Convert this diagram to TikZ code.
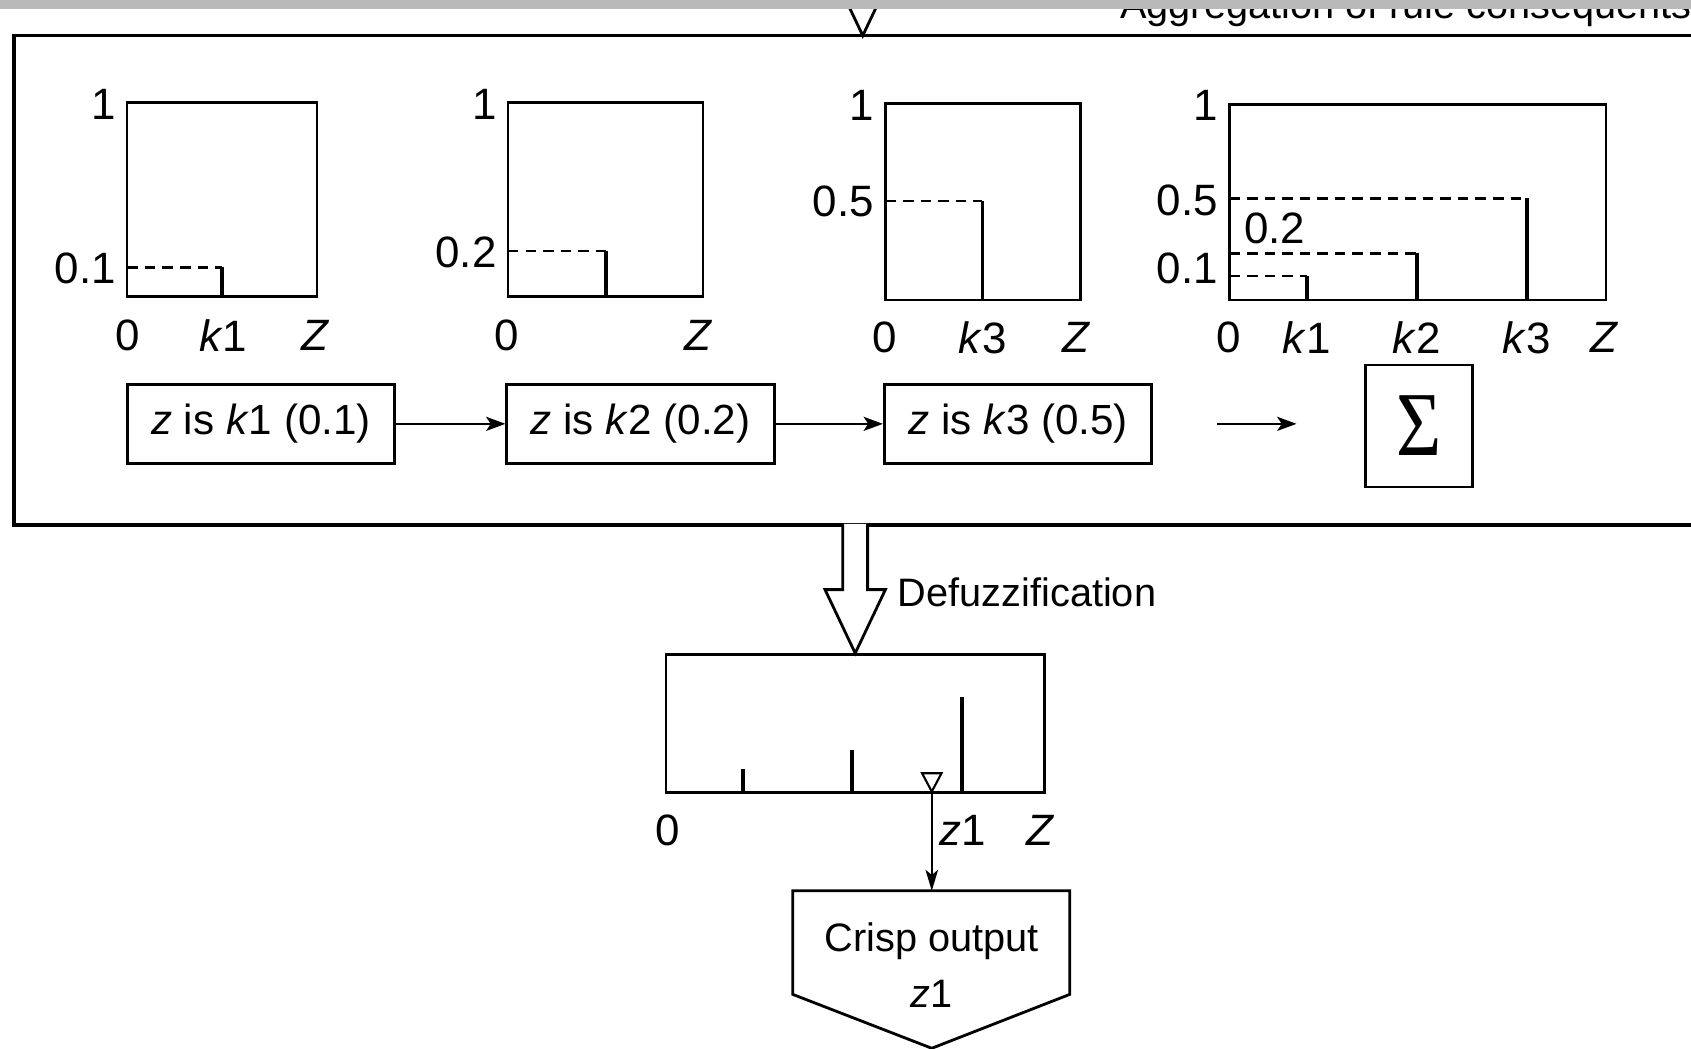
\documentclass[tikz,border=0pt]{standalone}
\usepackage{fontspec}
\usepackage{graphicx}
\setmainfont{Liberation Sans}
\newfontfamily\sigfont{Liberation Serif}
\usetikzlibrary{positioning, arrows.meta, calc}
\newdimen\pxu \pxu=0.010784cm

\begin{document}
\begin{tikzpicture}[
  x=\pxu, y=-\pxu,
  font=\fontsize{12.5}{14}\selectfont,
  plotbox/.style={draw, line width=0.7pt},
  lvl/.style={densely dashed, line width=0.6pt},
  spike/.style={line width=1pt},
  lbl/.style={inner sep=0pt},
  rule/.style={draw, line width=0.8pt, minimum width=248\pxu, minimum height=73\pxu, inner sep=0pt, font=\fontsize{12}{14}\selectfont},
  captxt/.style={inner sep=0pt, font=\fontsize{11.3}{16}\selectfont},
  hollow/.style={draw, line width=0.8pt, fill=white},
  arr/.style={-{Stealth[length=5.5pt, width=4pt, inset=1.3pt]}, line width=0.6pt},
]
  \useasboundingbox (0,0) rectangle (1568,972);
  \clip (0,0) rectangle (1568,972);
  \fill[white] (0,0) rectangle (1568,972);

  % aggregation frame, open to the right
  \draw[line width=1pt] (13,33) rectangle (1640,487);
  \node[captxt, anchor=base west] (agg) at (1038,17) {Aggregation of rule consequents};
  \coordinate (ftop) at (800,33);
  \draw[hollow] (ftop) ++(-11.5,-120) -- ++(0,61) -- ++(-16.5,0) -- (ftop) -- ++(28,-59) -- ++(-16.5,0) -- ++(0,-61);
  \fill[gray!55] (0,0) rectangle (1568,8);

  % the four consequent plots
  \draw[plotbox] (118,95) rectangle (294,275);
  \draw[lvl] (118,248) -- (206,248);
  \draw[spike] (206,248) -- (206,275);
  \draw[plotbox] (471,95) rectangle (652,275);
  \draw[lvl] (471,233) -- (562,233);
  \draw[spike] (562,233) -- (562,275);
  \draw[plotbox] (821,96) rectangle (1002,278);
  \draw[lvl] (821,186) -- (911,186);
  \draw[spike] (911,186) -- (911,278);
  \draw[plotbox] (1140,97) rectangle (1489,278);
  \foreach \x/\y in {1212/256, 1314/235, 1416/184} {
    \draw[lvl] (1140,\y) -- (\x,\y);
    \draw[spike] (\x,\y) -- (\x,278);
  }
  \foreach \x/\y/\t [count=\i] in {108/97/1, 108/249/0.1, 461/97/1, 461/234/0.2,
      811/98/1, 811/187/0.5, 1130/98/1, 1130/186/0.5, 1130/249/0.1}
    \node[lbl, anchor=east] (v\i) at (\x,\y) {\t};
  \node[lbl] (v0) at (1182,212) {0.2};
  \foreach \x/\y/\t [count=\i] in {118/311/0, 207/311/\textit{k}1, 293/311/\textit{Z},
      470/311/0, 648/311/\textit{Z}, 820/313/0, 911/313/\textit{k}3, 998/313/\textit{Z},
      1139/313/0, 1212/313/\textit{k}1, 1314/313/\textit{k}2, 1416/313/\textit{k}3, 1488/313/\textit{Z}}
    \node[lbl] (a\i) at (\x,\y) {\t};

  % rule outputs
  \node[rule] (r1) at (242,393) {\textit{z} is \textit{k}1 (0.1)};
  \node[rule] (r2) at (594,393) {\textit{z} is \textit{k}2 (0.2)};
  \node[rule] (r3) at (944,393) {\textit{z} is \textit{k}3 (0.5)};
  \node[draw, line width=0.8pt, minimum width=99\pxu, minimum height=113\pxu, inner sep=0pt,
    font=\sigfont\fontsize{26}{28}\selectfont] (sig) at (1316,395) {\scalebox{0.85}[1]{Σ}};
  \draw[arr] (r1.east) -- (r2.west);
  \draw[arr] (r2.east) -- (r3.west);
  \draw[arr, shorten <=59\pxu, shorten >=63\pxu] (r3.east) -- (r3.east -| sig.west);

  % defuzzification
  \node[draw, line width=0.8pt, minimum width=351\pxu, minimum height=128\pxu, inner sep=0pt] (dz) at (793,671) {};
  \draw[hollow] (dz.north) ++(-11.5,-120) -- ++(0,61) -- ++(-16.5,0) -- (dz.north) -- ++(28,-59) -- ++(-16.5,0) -- ++(0,-61);
  \node[captxt, anchor=west] (dlab) at (832,549) {Defuzzification};
  \foreach \x/\h in {689/22, 790/40, 892/89}
    \draw[spike] (\x,735) -- ++(0,-\h);
  \draw[line width=0.6pt] (855,717) -- (873,717) -- (864,734) -- cycle;
  \coordinate (mk) at (864,734);
  \node[lbl] (d1) at (619,770) {0};
  \node[lbl] (d2) at (893,770) {\textit{z}1};
  \node[lbl] (d3) at (965,770) {\textit{Z}};

  % crisp output
  \coordinate (ctop) at (864,826);
  \draw[-{Stealth[length=6pt, width=3.6pt, inset=1.5pt]}, line width=0.5pt] (mk) -- (ctop);
  \draw[line width=0.8pt] (735,826) -- (992,826) -- (992,922) -- (864,972) -- (735,922) -- cycle;
  \node[captxt, align=center] (crisp) at (864,895) {Crisp output\\\textit{z}1};
\end{tikzpicture}
\end{document}
